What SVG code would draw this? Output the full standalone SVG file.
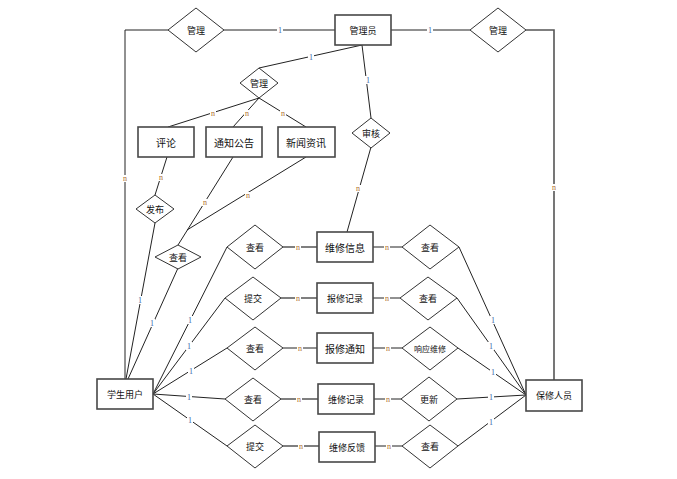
<svg xmlns="http://www.w3.org/2000/svg" width="677" height="479" viewBox="0 0 677 479">
<style>
.bg{fill:#fff}
.ent{fill:#fff;stroke:#484848;stroke-width:1.6}
.rel{fill:#fff;stroke:#333;stroke-width:1}
.ln{fill:none;stroke:#222;stroke-width:1}
.lg{fill:none;stroke:#555;stroke-width:1.6}
.t{font-family:"Noto Sans CJK SC","Liberation Sans",sans-serif;font-size:10px;fill:#111;text-anchor:middle;dominant-baseline:central}
.ts{font-size:9px}
.c{font-family:"Liberation Serif",serif;font-size:8px;text-anchor:middle;dominant-baseline:central}
.one{fill:#3a62a8}
.n{fill:#b07030}
.lb{fill:#fff}
</style>
<rect class="bg" x="0" y="0" width="677" height="479"/>
<g id="connectors">
<polyline class="ln" points="168,30 125,30 125,379"/>
<line class="ln" x1="224" y1="30" x2="335" y2="30"/>
<line class="ln" x1="391" y1="30" x2="470" y2="30"/>
<polyline class="lg" points="526,30 554,30 554,380"/>
<line class="ln" x1="362" y1="45" x2="259" y2="68"/>
<line class="ln" x1="362" y1="45" x2="371" y2="118"/>
<line class="ln" x1="259" y1="98" x2="168" y2="127"/>
<line class="ln" x1="259" y1="98" x2="233" y2="127"/>
<line class="ln" x1="259" y1="98" x2="306" y2="127"/>
<line class="ln" x1="371" y1="147" x2="347" y2="232"/>
<line class="ln" x1="167" y1="157" x2="155" y2="195"/>
<line class="ln" x1="155" y1="223" x2="126" y2="379"/>
<line class="ln" x1="233" y1="157" x2="178" y2="245"/>
<line class="ln" x1="306" y1="157" x2="187" y2="230"/>
<line class="ln" x1="178" y1="268" x2="128" y2="379"/>
<line class="ln" x1="153" y1="394" x2="227" y2="247"/>
<line class="ln" x1="153" y1="394" x2="225" y2="298"/>
<line class="ln" x1="153" y1="394" x2="227" y2="348"/>
<line class="ln" x1="153" y1="394" x2="225" y2="399"/>
<line class="ln" x1="153" y1="394" x2="227" y2="446"/>
<line class="lg" x1="283" y1="247" x2="317" y2="247"/>
<line class="lg" x1="281" y1="298" x2="317" y2="298"/>
<line class="ln" x1="283" y1="348" x2="317" y2="348"/>
<line class="lg" x1="281" y1="399" x2="318" y2="399"/>
<line class="lg" x1="283" y1="446" x2="319" y2="446"/>
<line class="ln" x1="373" y1="247" x2="402" y2="247"/>
<line class="ln" x1="373" y1="298" x2="400" y2="298"/>
<line class="ln" x1="373" y1="348" x2="402" y2="348"/>
<line class="ln" x1="374" y1="399" x2="401" y2="399"/>
<line class="ln" x1="375" y1="446" x2="402" y2="446"/>
<line class="ln" x1="459" y1="247" x2="526" y2="395"/>
<line class="ln" x1="457" y1="298" x2="526" y2="395"/>
<line class="ln" x1="458" y1="348" x2="526" y2="395"/>
<line class="ln" x1="457" y1="399" x2="526" y2="395"/>
<line class="ln" x1="458" y1="446" x2="526" y2="395"/>
<g id="labels">
<rect class="lb" x="277" y="26" width="6" height="8"/><text class="c one" x="280" y="30">1</text>
<rect class="lb" x="427" y="26" width="6" height="8"/><text class="c one" x="430" y="30">1</text>
<rect class="lb" x="308" y="53" width="6" height="8"/><text class="c one" x="311" y="57">1</text>
<rect class="lb" x="365" y="76" width="6" height="8"/><text class="c one" x="368" y="80">1</text>
<rect class="lb" x="210" y="110" width="6" height="7"/><text class="c n" x="213" y="113">n</text>
<rect class="lb" x="244" y="110" width="6" height="7"/><text class="c n" x="247" y="113">n</text>
<rect class="lb" x="280" y="110" width="6" height="7"/><text class="c n" x="283" y="113">n</text>
<rect class="lb" x="355" y="185" width="6" height="7"/><text class="c n" x="358" y="188">n</text>
<rect class="lb" x="122" y="175" width="6" height="7"/><text class="c n" x="125" y="178">n</text>
<rect class="lb" x="551" y="184" width="6" height="7"/><text class="c n" x="554" y="187">n</text>
<rect class="lb" x="158" y="174" width="6" height="7"/><text class="c n" x="161" y="177">n</text>
<rect class="lb" x="202" y="199" width="6" height="7"/><text class="c n" x="205" y="202">n</text>
<rect class="lb" x="245" y="192" width="6" height="7"/><text class="c n" x="248" y="195">n</text>
<rect class="lb" x="137" y="296" width="6" height="8"/><text class="c one" x="140" y="300">1</text>
<rect class="lb" x="149" y="319" width="6" height="8"/><text class="c one" x="152" y="323">1</text>
<rect class="lb" x="187" y="316" width="6" height="8"/><text class="c one" x="190" y="320">1</text>
<rect class="lb" x="186" y="342" width="6" height="8"/><text class="c one" x="189" y="346">1</text>
<rect class="lb" x="188" y="367" width="6" height="8"/><text class="c one" x="191" y="371">1</text>
<rect class="lb" x="186" y="393" width="6" height="8"/><text class="c one" x="189" y="397">1</text>
<rect class="lb" x="187" y="416" width="6" height="8"/><text class="c one" x="190" y="420">1</text>
<rect class="lb" x="295" y="244" width="6" height="7"/><text class="c n" x="298" y="247">n</text>
<rect class="lb" x="295" y="295" width="6" height="7"/><text class="c n" x="298" y="298">n</text>
<rect class="lb" x="297" y="345" width="6" height="7"/><text class="c n" x="300" y="348">n</text>
<rect class="lb" x="296" y="396" width="6" height="7"/><text class="c n" x="299" y="399">n</text>
<rect class="lb" x="298" y="443" width="6" height="7"/><text class="c n" x="301" y="446">n</text>
<rect class="lb" x="384" y="244" width="6" height="7"/><text class="c n" x="387" y="247">n</text>
<rect class="lb" x="384" y="295" width="6" height="7"/><text class="c n" x="387" y="298">n</text>
<rect class="lb" x="385" y="345" width="6" height="7"/><text class="c n" x="388" y="348">n</text>
<rect class="lb" x="385" y="396" width="6" height="7"/><text class="c n" x="388" y="399">n</text>
<rect class="lb" x="386" y="443" width="6" height="7"/><text class="c n" x="389" y="446">n</text>
<rect class="lb" x="490" y="316" width="6" height="8"/><text class="c one" x="493" y="320">1</text>
<rect class="lb" x="488" y="342" width="6" height="8"/><text class="c one" x="491" y="346">1</text>
<rect class="lb" x="490" y="368" width="6" height="8"/><text class="c one" x="493" y="372">1</text>
<rect class="lb" x="488" y="393" width="6" height="8"/><text class="c one" x="491" y="397">1</text>
<rect class="lb" x="488" y="418" width="6" height="8"/><text class="c one" x="491" y="422">1</text>
</g>
</g>
<g id="admin"><rect class="ent" x="335" y="15" width="56" height="30"/><text class="t ts" x="363" y="30">管理员</text></g>
<g id="rel-manage-left"><polygon class="rel" points="168,30 196,8 224,30 196,52"/><text class="t ts" x="196" y="30">管理</text></g>
<g id="rel-manage-right"><polygon class="rel" points="470,30 498,8 526,30 498,52"/><text class="t ts" x="498" y="30">管理</text></g>
<g id="rel-manage-mid"><polygon class="rel" points="240,83 259,68 278,83 259,98"/><text class="t ts" x="259" y="83">管理</text></g>
<g id="rel-audit"><polygon class="rel" points="352,133 371,118 390,133 371,148"/><text class="t ts" x="371" y="133">审核</text></g>
<g id="comment"><rect class="ent" x="138" y="127" width="56" height="30"/><text class="t" x="166" y="142">评论</text></g>
<g id="notice"><rect class="ent" x="206" y="127" width="56" height="30"/><text class="t" x="234" y="142">通知公告</text></g>
<g id="news"><rect class="ent" x="278" y="127" width="57" height="30"/><text class="t" x="306" y="142">新闻资讯</text></g>
<g id="rel-publish"><polygon class="rel" points="136,209 155,195 174,209 155,223"/><text class="t ts" x="155" y="209">发布</text></g>
<g id="rel-view-left"><polygon class="rel" points="155,257 178,245 201,257 178,269"/><text class="t ts" x="178" y="257">查看</text></g>
<g id="student"><rect class="ent" x="97" y="379" width="56" height="30"/><text class="t ts" x="125" y="394">学生用户</text></g>
<g id="repairer"><rect class="ent" x="526" y="380" width="56" height="31"/><text class="t ts" x="554" y="395">保修人员</text></g>
<g id="rel-l1"><polygon class="rel" points="227,247 255,225 283,247 255,269"/><text class="t ts" x="255" y="247">查看</text></g>
<g id="rel-l2"><polygon class="rel" points="225,298 253,277 281,298 253,320"/><text class="t ts" x="253" y="298">提交</text></g>
<g id="rel-l3"><polygon class="rel" points="227,348 255,327 283,348 255,370"/><text class="t ts" x="255" y="348">查看</text></g>
<g id="rel-l4"><polygon class="rel" points="225,399 253,378 281,399 253,421"/><text class="t ts" x="253" y="399">查看</text></g>
<g id="rel-l5"><polygon class="rel" points="227,446 255,425 283,446 255,468"/><text class="t ts" x="255" y="446">提交</text></g>
<g id="repair-info"><rect class="ent" x="317" y="232" width="56" height="30"/><text class="t" x="345" y="247">维修信息</text></g>
<g id="report-record"><rect class="ent" x="317" y="283" width="56" height="30"/><text class="t ts" x="345" y="298">报修记录</text></g>
<g id="report-notice"><rect class="ent" x="317" y="333" width="56" height="30"/><text class="t" x="345" y="348">报修通知</text></g>
<g id="repair-record"><rect class="ent" x="318" y="384" width="56" height="30"/><text class="t ts" x="346" y="399">维修记录</text></g>
<g id="repair-feedback"><rect class="ent" x="319" y="432" width="56" height="30"/><text class="t ts" x="347" y="447">维修反馈</text></g>
<g id="rel-r1"><polygon class="rel" points="402,247 430,225 459,247 430,269"/><text class="t ts" x="430" y="247">查看</text></g>
<g id="rel-r2"><polygon class="rel" points="400,298 428,277 457,298 428,320"/><text class="t ts" x="428" y="298">查看</text></g>
<g id="rel-r3"><polygon class="rel" points="402,348 430,327 458,348 430,370"/><text class="t" x="430" y="348" style="font-size:8px">响应维修</text></g>
<g id="rel-r4"><polygon class="rel" points="401,399 429,377 457,399 429,421"/><text class="t ts" x="429" y="399">更新</text></g>
<g id="rel-r5"><polygon class="rel" points="402,446 430,425 458,446 430,468"/><text class="t ts" x="430" y="446">查看</text></g>
</svg>
